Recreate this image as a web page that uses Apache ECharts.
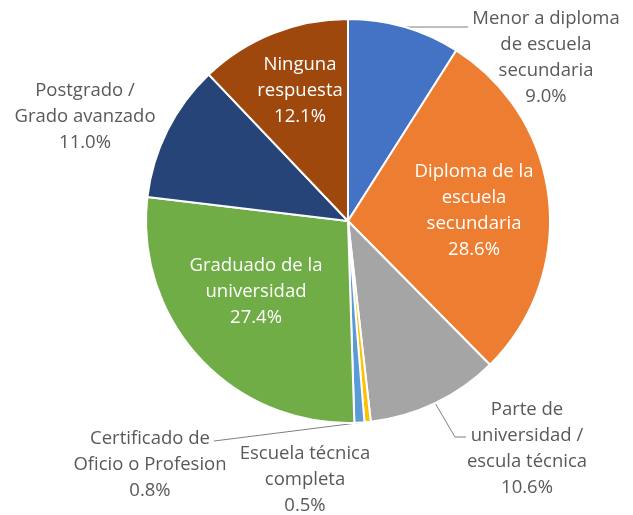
<!DOCTYPE html>
<html>
<head>
<meta charset="utf-8">
<script src="https://cdn.jsdelivr.net/npm/echarts@6/dist/echarts.min.js"></script>
<style>
  html, body { margin: 0; padding: 0; background: #fff; }
  #chart { width: 633px; height: 515px; }
</style>
</head>
<body>
<div id="chart"></div>
<script>
// slices, clockwise from 12 o'clock
const categories = [
  'Menor a diploma\nde escuela\nsecundaria',
  'Diploma de la\nescuela\nsecundaria',
  'Parte de\nuniversidad /\nescula técnica',
  'Escuela técnica\ncompleta',
  'Certificado de\nOficio o Profesion',
  'Graduado de la\nuniversidad',
  'Postgrado /\nGrado avanzado',
  'Ninguna\nrespuesta'
];
const shares = [9.0, 28.6, 10.6, 0.5, 0.8, 27.4, 11.0, 12.1];
const colors = ['#4472C4', '#ED7D31', '#A5A5A5', '#FFC000', '#5B9BD5', '#70AD47', '#264478', '#9E480E'];

// where each label sits (centre of text block) and whether it is inside the pie
const labelSpots = [
  [546, 58], [474, 211], [527, 449], [305, 480],
  [150, 465], [256, 292], [85, 117], [300, 91]
];
const insideLabel = [false, true, false, false, false, true, false, true];
// leader lines: elbow and end point, or null for none
const leaders = [
  [null, [468, 0]],
  null,
  [[455, 437], [466, 437]],
  null,
  [null, [214, 441]],
  null, null, null
];

const CX = 348, CY = 221, R = 202;
const total = shares.reduce((a, b) => a + b, 0);

function edgePoint(i) {
  let before = 0;
  for (let k = 0; k < i; k++) before += shares[k];
  const a = (before + shares[i] / 2) / total * 2 * Math.PI;
  return [CX + R * Math.sin(a), CY - R * Math.cos(a)];
}

const chart = echarts.init(document.getElementById('chart'));

chart.setOption({
  animation: false,
  series: [{
    type: 'pie',
    center: [CX, CY],
    radius: R,
    startAngle: 90,
    clockwise: true,
    avoidLabelOverlap: false,
    itemStyle: { borderColor: '#fff', borderWidth: 2 },
    label: {
      show: true,
      position: 'outside',
      fontFamily: 'Open Sans',
      fontSize: 18.5,
      lineHeight: 26,
      color: '#595959',
      align: 'center',
      formatter: (p) => p.name + '\n' + p.value.toFixed(1) + '%'
    },
    labelLine: {
      show: true,
      lineStyle: { color: '#7f7f7f', width: 1 }
    },
    labelLayout: (p) => {
      const i = p.dataIndex;
      const out = {
        x: labelSpots[i][0],
        y: labelSpots[i][1],
        align: 'center',
        verticalAlign: 'middle'
      };
      const l = leaders[i];
      if (l) {
        const a = edgePoint(i);
        const end = [l[1][0], l[1][1] || a[1]];
        const mid = l[0] || end;
        out.labelLinePoints = [a, mid, end];
      }
      return out;
    },
    data: shares.map((v, i) => ({
      name: categories[i],
      value: v,
      itemStyle: { color: colors[i] },
      label: insideLabel[i] ? { color: '#fff' } : {},
      labelLine: { show: !!leaders[i] }
    }))
  }]
});
</script>
</body>
</html>
